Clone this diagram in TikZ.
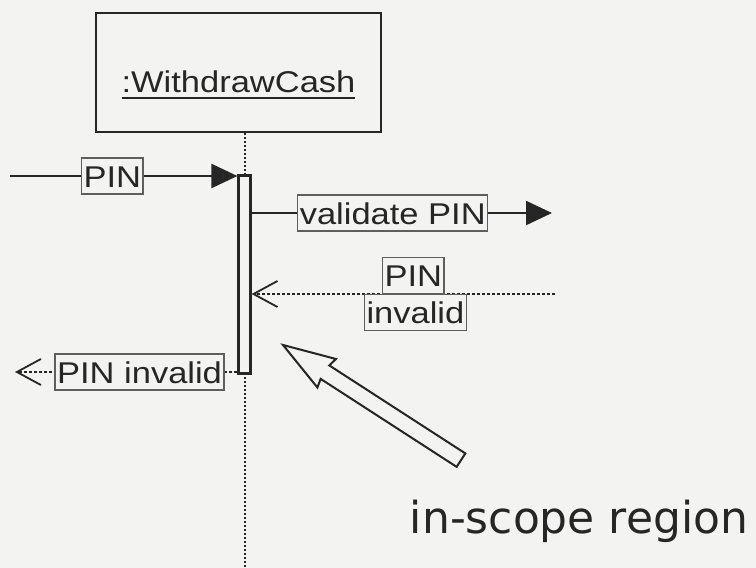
\documentclass[tikz,border=0pt]{standalone}
\usepackage{fontspec}
\usepackage{tikz}
\usetikzlibrary{arrows.meta,positioning,calc}
\newfontfamily\umlfont[FakeStretch=1.15]{Liberation Sans}
\newfontfamily\notefont{DejaVu Sans}
\definecolor{SeqInk}{HTML}{262626}
\definecolor{SeqFrame}{HTML}{5E5E5E}
\definecolor{SeqPaper}{HTML}{F3F3F1}
\newcommand\ulname[1]{\setbox0\hbox{#1}\rlap{\rule[-6.5pt]{\wd0}{2pt}}\box0}

\begin{document}
\begin{tikzpicture}[x=1pt, y=-1pt,
    objbox/.style={draw=SeqInk, line width=2.6pt, minimum width=285pt, minimum height=119pt, text height=39pt, text depth=0pt, text=SeqInk, font=\umlfont\fontsize{30}{32}\selectfont},
    actbar/.style={draw=SeqInk, line width=2.2pt, fill=SeqPaper, minimum width=12pt, minimum height=198pt, inner sep=0pt},
    lifeline/.style={draw=SeqInk, line width=2pt, dash pattern=on 2pt off 2pt},
    callmsg/.style={draw=SeqInk, line width=2.2pt, -{Triangle[length=26pt,width=24pt]}},
    retmsg/.style={draw=SeqInk, line width=1.8pt, dash pattern=on 3pt off 2pt, -{Straight Barb[length=24pt,width=26pt]}},
    msglbl/.style={draw=SeqFrame, solid, line width=1.2pt, fill=SeqPaper, inner xsep=2pt, inner ysep=0pt, minimum height=36pt, text height=22pt, text depth=0pt, text=SeqInk, font=\umlfont\fontsize{30}{32}\selectfont}]
  \fill[SeqPaper] (0,0) rectangle (756,568);
  \useasboundingbox (0,0) rectangle (756,568);

  \node[objbox] (obj) at (238.5,72.5) {\ulname{:WithdrawCash}};
  \coordinate (lifeend) at (244.5,568);
  \draw[lifeline] (obj.south -| lifeend) -- (lifeend);
  \node[actbar] (act) at (244.5,274.5) {};

  \coordinate (pinsrc) at (10,176);
  \draw[callmsg] (pinsrc) -- node[msglbl, pos=.45] (lblpin) {PIN} (pinsrc -| act.west);
  \coordinate (valend) at (552,213);
  \draw[callmsg] (valend -| act.east) -- node[msglbl, pos=.47] (lblval) {validate PIN} (valend);
  \coordinate (invsrc) at (555,294);
  \draw[retmsg] (invsrc) -- node[msglbl, pos=.467, above] (lblinvtop) {PIN}
    node[msglbl, pos=.46, below] (lblinvbot) {invalid} (invsrc -| act.east);
  \coordinate (rejend) at (15,372);
  \draw[retmsg] (rejend -| act.west) -- node[msglbl, pos=.44] (lblrej) {PIN invalid} (rejend);

  \coordinate (scopetip) at (283,345);
  \draw[SeqInk, line width=2pt, shift={(scopetip)}, rotate=-32.9]
    (0,0) -- (52,17) -- (50,8) -- (212,8) -- (212,-8) -- (50,-8) -- (52,-17) -- cycle;
  \node[anchor=base, text=SeqInk, font=\notefont\fontsize{44}{46}\selectfont] (scopenote) at (579,533) {in-scope region};
\end{tikzpicture}
\end{document}
